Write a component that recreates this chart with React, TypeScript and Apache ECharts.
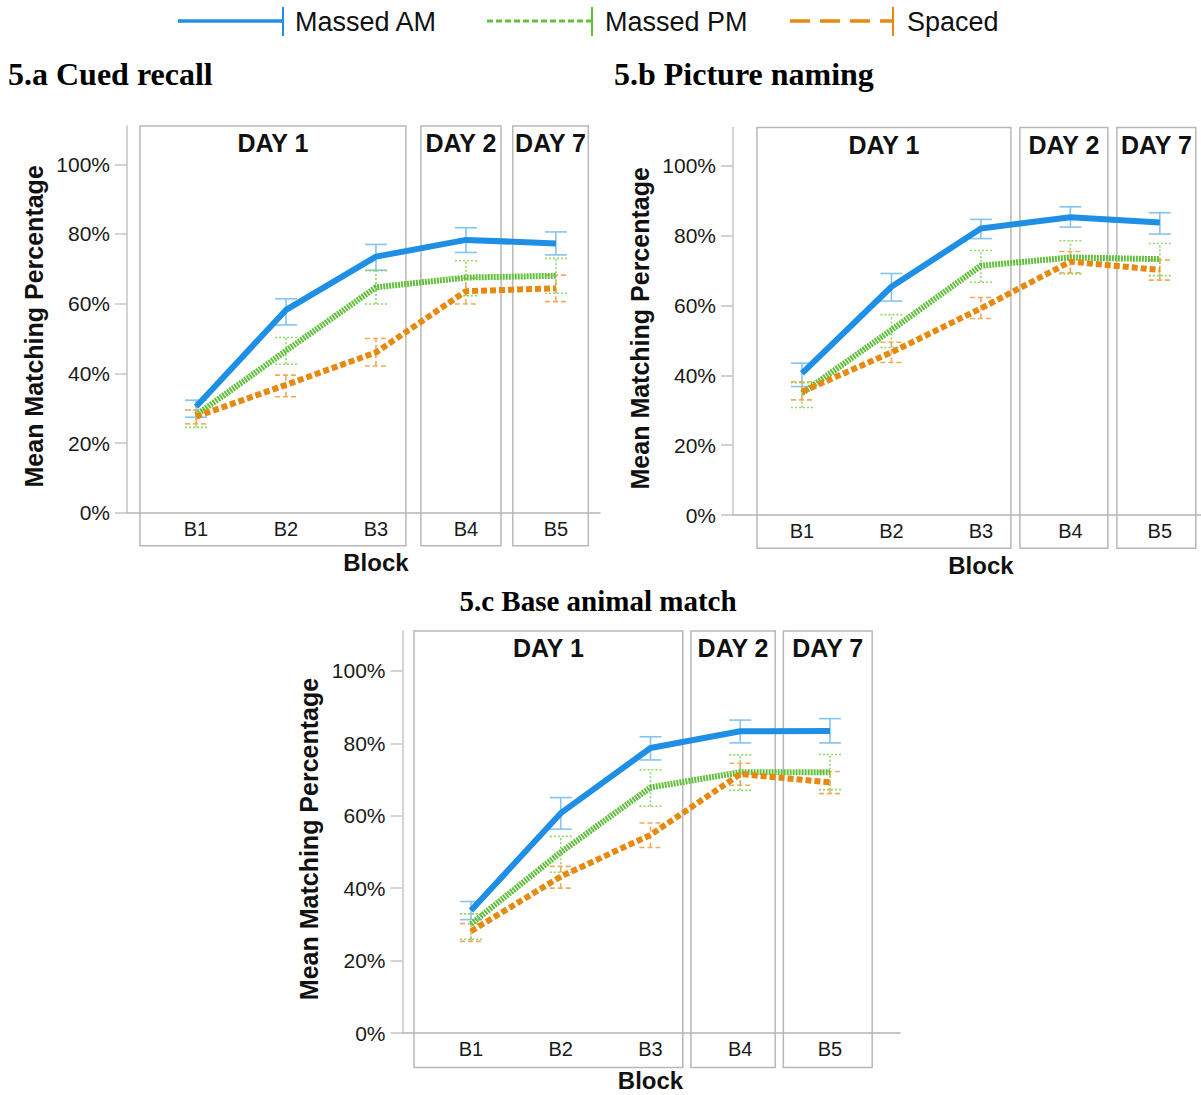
import React, { useEffect, useRef } from "react";
import * as echarts from "echarts";

const blocks = ["B1", "B2", "B3", "B4", "B5"];
const blockPos = [1, 2, 3, 4, 5];
const yTicks = [0, 20, 40, 60, 80, 100];
const dayLabels = ["DAY 1", "DAY 2", "DAY 7"];
const seriesNames = ["Massed AM", "Massed PM", "Spaced"];
const panelTitles = ["5.a Cued recall", "5.b Picture naming", "5.c Base animal match"];

// Panel a: Cued recall
const amA = [30.4, 58.2, 73.5, 78.3, 77.3];
const amALo = [27.4, 53.9, 69.6, 74.7, 74.0];
const amAHi = [32.3, 61.4, 77.0, 81.8, 80.6];
const pmA = [28.0, 46.5, 64.7, 67.5, 68.0];
const pmALo = [24.5, 42.6, 59.9, 62.3, 63.0];
const pmAHi = [29.5, 50.3, 69.5, 72.3, 73.0];
const spA = [27.6, 36.7, 46.0, 63.6, 64.4];
const spALo = [25.5, 33.3, 42.1, 59.9, 60.6];
const spAHi = [29.5, 39.5, 50.0, 67.3, 68.2];

// Panel b: Picture naming
const amB = [40.6, 65.4, 82.1, 85.3, 83.8];
const amBLo = [36.8, 61.3, 79.2, 82.5, 80.5];
const amBHi = [43.5, 69.2, 84.7, 88.3, 86.6];
const pmB = [34.9, 53.0, 71.4, 73.8, 73.3];
const pmBLo = [30.8, 48.0, 66.7, 69.1, 68.6];
const pmBHi = [37.9, 57.4, 75.8, 78.6, 77.8];
const spB = [35.3, 46.6, 59.2, 72.6, 70.2];
const spBLo = [33.0, 43.7, 56.3, 69.4, 67.3];
const spBHi = [38.2, 49.5, 62.3, 75.5, 73.1];

// Panel c: Base animal match
const amC = [33.8, 60.7, 78.7, 83.3, 83.4];
const amCLo = [31.3, 56.3, 75.4, 80.1, 80.1];
const amCHi = [36.3, 65.0, 81.8, 86.4, 86.8];
const pmC = [30.1, 49.9, 67.8, 72.0, 72.0];
const pmCLo = [25.9, 44.4, 62.6, 67.0, 67.2];
const pmCHi = [32.9, 54.3, 72.7, 76.8, 76.9];
const spC = [28.1, 43.2, 54.7, 71.5, 69.2];
const spCLo = [25.3, 40.0, 51.2, 68.4, 66.1];
const spCHi = [30.2, 46.0, 58.0, 74.5, 72.2];

// Day-box extents in block units for each panel
const dayBoxesA = [[0.377, 3.333], [3.5, 4.39], [4.52, 5.36]];
const dayBoxesB = [[0.497, 3.335], [3.436, 4.419], [4.52, 5.402]];
const dayBoxesC = [[0.365, 3.36], [3.45, 4.39], [4.48, 5.47]];

const SANS = "'Liberation Sans', Arial, Helvetica, sans-serif";
const SERIF = "'Liberation Serif', 'Times New Roman', serif";

const lineStyles = [
  { color: "#1f8fe5", type: "solid" as any, errColor: "#86c4f0", errDash: null as any },
  { color: "#62bf3e", type: [2, 1] as any, errColor: "#8fd66d", errDash: [2, 2] },
  { color: "#e8890f", type: [6, 3] as any, errColor: "#f0ac5c", errDash: [5, 3] },
];

const panels = [
  {
    grid: { left: 127, top: 126, width: 473, height: 386.7 },
    xMin: 0.233, xMax: 5.49,
    means: [amA, pmA, spA], lo: [amALo, pmALo, spALo], hi: [amAHi, pmAHi, spAHi],
    boxes: dayBoxesA, title: { x: 8, y: 74, size: 32, align: "left" }, blockGap: 50,
  },
  {
    grid: { left: 733, top: 127.6, width: 468, height: 387.4 },
    xMin: 0.229, xMax: 5.46,
    means: [amB, pmB, spB], lo: [amBLo, pmBLo, spBLo], hi: [amBHi, pmBHi, spBHi],
    boxes: dayBoxesB, title: { x: 614, y: 74, size: 32, align: "left" }, blockGap: 50,
  },
  {
    grid: { left: 402.5, top: 631, width: 497.5, height: 402 },
    xMin: 0.237, xMax: 5.78,
    means: [amC, pmC, spC], lo: [amCLo, pmCLo, spCLo], hi: [amCHi, pmCHi, spCHi],
    boxes: dayBoxesC, title: { x: 598, y: 601, size: 29, align: "center" }, blockGap: 47,
  },
];

const Y_MAX = 111;
const BOX_TOP = 111;
const BOX_BOTTOM = -9.5;

export default function App() {
  const ref = useRef<HTMLDivElement>(null);
  useEffect(() => {
    if (!ref.current) return;
    const chart = echarts.init(ref.current, null, { renderer: "svg" });

    const grids: any[] = [];
    const xAxes: any[] = [];
    const yAxes: any[] = [];
    const series: any[] = [];

    panels.forEach((p, i) => {
      grids.push({ ...p.grid, containLabel: false });
      xAxes.push({
        type: "value",
        gridIndex: i,
        min: p.xMin,
        max: p.xMax,
        splitLine: { show: false },
        axisTick: { show: false },
        axisLine: { show: true, onZero: false, lineStyle: { color: "#b4b4b4", width: 1.5 } },
        axisLabel: {
          customValues: blockPos,
          formatter: (v: number) => blocks[Math.round(v) - 1] ?? "",
          color: "#1a1a1a",
          fontFamily: SANS,
          fontSize: 20,
          margin: 6,
        },
      });
      yAxes.push({
        type: "value",
        gridIndex: i,
        min: 0,
        max: Y_MAX,
        name: "Mean Matching Percentage",
        nameLocation: "middle",
        nameGap: 81,
        nameTextStyle: {
          fontFamily: SANS,
          fontSize: 25,
          fontWeight: "bold",
          color: "#111",
          padding: [0, 14, 0, 0],
        },
        splitLine: { show: false },
        axisLine: { show: true, lineStyle: { color: "#c4c4c4", width: 1.5 } },
        axisTick: { show: true, customValues: yTicks, length: 12, lineStyle: { color: "#c4c4c4", width: 1.5 } },
        axisLabel: {
          customValues: yTicks,
          formatter: (v: number) => `${v}%`,
          color: "#1a1a1a",
          fontFamily: SANS,
          fontSize: 21,
          margin: 17,
        },
      });
      seriesNames.forEach((name, s) => {
        const st = lineStyles[s];
        series.push({
          type: "custom",
          name: name + " CI",
          xAxisIndex: i,
          yAxisIndex: i,
          z: 1,
          silent: true,
          encode: { x: 0, y: [1, 2] },
          data: blockPos.map((x, k) => [x, p.lo[s][k], p.hi[s][k]]),
          renderItem: (_params: any, api: any) => {
            const x = api.value(0);
            const a = api.coord([x, api.value(1)]);
            const b = api.coord([x, api.value(2)]);
            const hw = 11;
            const style: any = { stroke: st.errColor, lineWidth: 1.6 };
            if (st.errDash) style.lineDash = st.errDash;
            return {
              type: "group",
              children: [
                { type: "line", shape: { x1: a[0], y1: a[1], x2: b[0], y2: b[1] }, style },
                { type: "line", shape: { x1: a[0] - hw, y1: a[1], x2: a[0] + hw, y2: a[1] }, style },
                { type: "line", shape: { x1: b[0] - hw, y1: b[1], x2: b[0] + hw, y2: b[1] }, style },
              ],
            };
          },
        });
        series.push({
          type: "line",
          name,
          xAxisIndex: i,
          yAxisIndex: i,
          z: 3,
          symbol: "none",
          silent: true,
          data: blockPos.map((x, k) => [x, p.means[s][k]]),
          lineStyle: { color: st.color, width: 6, type: st.type, cap: "butt", join: "round" },
        });
      });
    });

    chart.setOption({
      animation: false,
      backgroundColor: "#ffffff",
      grid: grids,
      xAxis: xAxes,
      yAxis: yAxes,
      series,
    });

    const graphics: any[] = [];
    // Legend
    const legendItems = [
      { x0: 178, x1: 283, tx: 295, s: 0, dash: null as any, w: 3.5 },
      { x0: 487, x1: 592, tx: 605, s: 1, dash: [6, 3], w: 3 },
      { x0: 790, x1: 893, tx: 907, s: 2, dash: [20, 10], w: 3.5 },
    ];
    legendItems.forEach((li) => {
      const col = lineStyles[li.s].color;
      const style: any = { stroke: col, lineWidth: li.w };
      if (li.dash) style.lineDash = li.dash;
      graphics.push({ type: "line", shape: { x1: li.x0, y1: 21, x2: li.x1, y2: 21 }, style });
      graphics.push({ type: "line", shape: { x1: li.x1, y1: 7, x2: li.x1, y2: 36 }, style: { stroke: col, lineWidth: 2 } });
      graphics.push({
        type: "text",
        x: li.tx,
        y: 22,
        style: { text: seriesNames[li.s], fontFamily: SANS, fontSize: 27, fill: "#111", verticalAlign: "middle" },
      });
    });

    panels.forEach((p, i) => {
      graphics.push({
        type: "text",
        x: p.title.x,
        y: p.title.y,
        style: {
          text: panelTitles[i],
          fontFamily: SERIF,
          fontWeight: "bold",
          fontSize: p.title.size,
          fill: "#000",
          align: p.title.align,
          verticalAlign: "middle",
        },
      });
      p.boxes.forEach((b, k) => {
        const tl = chart.convertToPixel({ gridIndex: i } as any, [b[0], BOX_TOP]) as number[];
        const br = chart.convertToPixel({ gridIndex: i } as any, [b[1], BOX_BOTTOM]) as number[];
        graphics.push({
          type: "rect",
          z: 0,
          silent: true,
          shape: { x: tl[0], y: tl[1], width: br[0] - tl[0], height: br[1] - tl[1] },
          style: { fill: "none", stroke: "#b8b8b8", lineWidth: 1.5 },
        });
        graphics.push({
          type: "text",
          x: (tl[0] + br[0]) / 2,
          y: tl[1] + 17,
          style: {
            text: dayLabels[k],
            fontFamily: SANS,
            fontWeight: "bold",
            fontSize: 25,
            fill: "#111",
            align: "center",
            verticalAlign: "middle",
          },
        });
      });
      const bp = chart.convertToPixel({ gridIndex: i } as any, [3, 0]) as number[];
      graphics.push({
        type: "text",
        x: bp[0],
        y: bp[1] + p.blockGap,
        style: {
          text: "Block",
          fontFamily: SANS,
          fontWeight: "bold",
          fontSize: 24,
          fill: "#111",
          align: "center",
          verticalAlign: "middle",
        },
      });
    });

    chart.setOption({ graphic: graphics });

    return () => chart.dispose();
  }, []);

  return (
    <div
      ref={ref}
      style={{ position: "absolute", left: 0, top: 0, width: 1201, height: 1095, background: "#fff" }}
    />
  );
}
